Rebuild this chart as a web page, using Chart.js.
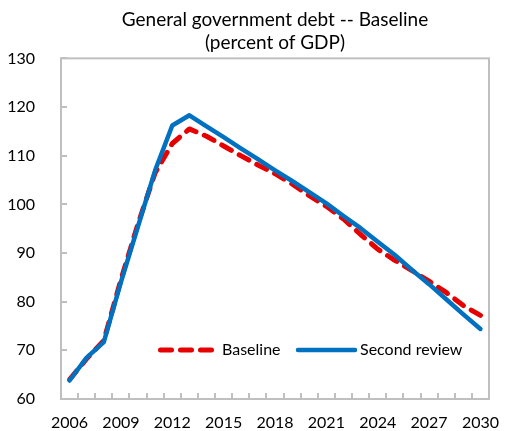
<!DOCTYPE html>
<html>
<head>
<meta charset="utf-8">
<script src="https://cdn.jsdelivr.net/npm/chart.js@4"></script>
<style>
  html, body { margin: 0; padding: 0; background: #fff; }
  #debtChart { display: block; }
</style>
</head>
<body>
<canvas id="debtChart" width="506" height="431"></canvas>
<script>
const years = ['2006', '2007', '2008', '2009', '2010', '2011', '2012', '2013', '2014', '2015',
  '2016', '2017', '2018', '2019', '2020', '2021', '2022', '2023', '2024', '2025',
  '2026', '2027', '2028', '2029', '2030'];
const xTickLabels = ['2006', '2009', '2012', '2015', '2018', '2021', '2024', '2027', '2030'];
const yTicks = [60, 70, 80, 90, 100, 110, 120, 130];

const baseline = [64.0, 68.3, 72.0, 84.5, 96.0, 106.5, 112.5, 115.5, 114.0, 112.0,
  110.0, 108.1, 106.3, 104.2, 101.8, 99.6, 97.0, 93.8, 90.8, 88.5,
  86.4, 84.2, 81.9, 79.2, 77.2];
const secondReview = [63.8, 68.5, 71.7, 84.0, 95.5, 107.0, 116.2, 118.3, 116.0, 113.8,
  111.5, 109.3, 107.0, 104.8, 102.5, 100.2, 97.6, 95.1, 92.3, 89.6,
  86.5, 83.6, 80.5, 77.4, 74.4];

const fontFamily = 'Lato, "Open Sans", sans-serif';
const frameColor = '#bfbfbf';

// frame round the plot area and the little inside tick marks
const framePlugin = {
  id: 'frame',
  beforeDatasetsDraw(chart) {
    const { ctx, chartArea } = chart;
    const xScale = chart.scales.x;
    const yScale = chart.scales.y;
    ctx.save();
    ctx.strokeStyle = frameColor;
    ctx.lineWidth = 2;
    ctx.strokeRect(chartArea.left, chartArea.top, chartArea.right - chartArea.left, chartArea.bottom - chartArea.top);

    ctx.beginPath();
    yTicks.forEach(v => {
      const y = Math.round(yScale.getPixelForValue(v));
      ctx.moveTo(chartArea.left, y);
      ctx.lineTo(chartArea.left + 6, y);
    });
    const step = xScale.getPixelForValue(1) - xScale.getPixelForValue(0);
    for (let i = 0; i <= years.length; i++) {
      const x = Math.round(xScale.getPixelForValue(i) - step / 2);
      ctx.moveTo(x, chartArea.bottom);
      ctx.lineTo(x, chartArea.bottom - 6);
    }
    ctx.stroke();
    ctx.restore();
  }
};

// legend sits inside the plot, near the bottom
const insideLegend = {
  id: 'insideLegend',
  afterDatasetsDraw(chart) {
    const { ctx } = chart;
    const y = 350;
    const items = [
      { ds: chart.data.datasets[0], x1: 160.5, x2: 211.5, tx: 222 },
      { ds: chart.data.datasets[1], x1: 298, x2: 355, tx: 360 }
    ];
    ctx.save();
    items.forEach(item => {
      ctx.beginPath();
      ctx.strokeStyle = item.ds.borderColor;
      ctx.lineWidth = item.ds.borderWidth;
      ctx.lineCap = item.ds.borderCapStyle || 'butt';
      ctx.setLineDash(item.ds.borderDash || []);
      ctx.moveTo(item.x1, y);
      ctx.lineTo(item.x2, y);
      ctx.stroke();
      ctx.setLineDash([]);
      ctx.fillStyle = '#000';
      ctx.font = '16px ' + fontFamily;
      ctx.textBaseline = 'middle';
      ctx.textAlign = 'left';
      ctx.fillText(item.ds.label, item.tx, y);
    });
    ctx.restore();
  }
};

const ctx = document.getElementById('debtChart').getContext('2d');

new Chart(ctx, {
  type: 'line',
  data: {
    labels: years,
    datasets: [{
      label: 'Baseline',
      data: baseline,
      borderColor: '#e60000',
      borderWidth: 5,
      borderDash: [11, 9],
      borderCapStyle: 'round',
      borderJoinStyle: 'round',
      pointRadius: 0,
      tension: 0,
      fill: false,
      order: 1
    }, {
      label: 'Second review',
      data: secondReview,
      borderColor: '#0070c0',
      borderWidth: 4.5,
      borderCapStyle: 'round',
      borderJoinStyle: 'round',
      pointRadius: 0,
      tension: 0,
      fill: false,
      order: 0
    }]
  },
  options: {
    responsive: false,
    animation: false,
    layout: {
      padding: { left: 0, right: 17, top: 0, bottom: 0 }
    },
    plugins: {
      legend: { display: false },
      tooltip: { enabled: false },
      title: {
        display: true,
        fullSize: false,
        text: ['General government debt -- Baseline', '(percent of GDP)'],
        color: '#000',
        font: { family: fontFamily, size: 19, weight: 'normal', lineHeight: 1.22 },
        padding: { top: 8, bottom: 4 }
      }
    },
    scales: {
      x: {
        offset: true,
        grid: { display: false },
        border: { display: false },
        ticks: {
          autoSkip: false,
          maxRotation: 0,
          minRotation: 0,
          padding: 6,
          color: '#000',
          font: { family: fontFamily, size: 16 },
          callback: function(value) {
            const label = years[value];
            return xTickLabels.includes(label) ? label : '';
          }
        },
        afterFit: function(scale) {
          scale.height = 32;
        }
      },
      y: {
        min: 60,
        max: 130,
        grid: { display: false },
        border: { display: false },
        ticks: {
          stepSize: 10,
          padding: 18,
          color: '#000',
          font: { family: fontFamily, size: 16 }
        },
        afterFit: function(scale) {
          scale.width = 61;
        }
      }
    }
  },
  plugins: [framePlugin, insideLegend]
});
</script>
</body>
</html>
